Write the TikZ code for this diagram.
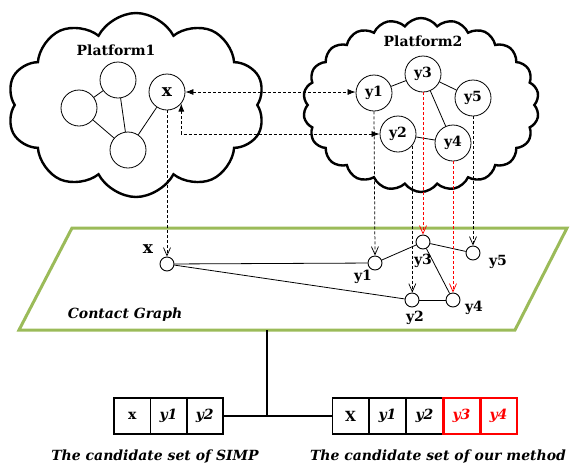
\documentclass[tikz,border=0pt]{standalone}
\usepackage{fontspec}
\setmainfont{DejaVu Serif}
\usetikzlibrary{shapes.symbols,arrows.meta}
\definecolor{cgreen}{RGB}{155,187,89}
\definecolor{cred}{RGB}{255,0,0}
\tikzset{
  cloudbox/.style={cloud, draw, line width=2.4pt, cloud ignores aspect},
  bignode/.style={circle, draw, line width=0.8pt, fill=white, minimum size=36pt, inner sep=0pt, font=\bfseries\fontsize{14}{14}\selectfont},
  smallnode/.style={circle, draw, line width=0.9pt, fill=white, minimum size=14pt, inner sep=0pt},
  glabel/.style={font=\bfseries\fontsize{14}{14}\selectfont, inner sep=0pt},
  edge/.style={line width=0.8pt},
  dash1/.style={dash pattern=on 3pt off 2pt, line width=0.75pt},
  dblarrow/.style={dash1, {Latex[length=8pt,width=6pt]}-{Latex[length=8pt,width=6pt]}},
  varrow/.style={dash1, -{Straight Barb[length=8pt,width=7pt]}},
  redarrow/.style={varrow, draw=cred},
  cellbox/.style={draw, line width=1.5pt, minimum width=36.5pt, minimum height=36pt, inner sep=0pt, font=\bfseries\fontsize{14}{14}\selectfont},
  redcell/.style={cellbox, draw=cred, text=cred, line width=2.5pt},
  caption/.style={font=\bfseries\itshape\fontsize{14}{14}\selectfont, inner sep=0pt}
}
\begin{document}
\begin{tikzpicture}[x=1pt,y=-1pt]
\useasboundingbox (0,0) rectangle (570,464);
% clouds
\node[cloudbox, cloud puffs=10, cloud puff arc=125, minimum width=258pt, minimum height=184pt] (c1) at (136,105) {};
\node[cloudbox, cloud puffs=22, cloud puff arc=110, minimum width=236pt, minimum height=174pt] (c2) at (421,105) {};
\node[font=\bfseries\fontsize{14}{14}\selectfont] (t1) at (116,50) {Platform1};
\node[font=\bfseries\fontsize{14}{14}\selectfont] (t2) at (423,41) {Platform2};
% platform 1
\node[bignode] (pa) at (118,80) {};
\node[bignode] (pb) at (79,108) {};
\node[bignode] (pc) at (128,150) {};
\node[bignode] (pX) at (167,92) {\fontsize{17}{17}\selectfont x};
\draw[edge] (pb) -- (pa);
\draw[edge] (pa) -- (pc);
\draw[edge] (pb) -- (pc);
\draw[edge] (pc) -- (pX);
% platform 2
\node[bignode] (p1) at (374,93) {y1};
\node[bignode] (p3) at (423,74) {y3};
\node[bignode] (p5) at (473,98) {y5};
\node[bignode] (p2) at (398,134) {y2};
\node[bignode] (p4) at (453,143) {y4};
\draw[edge] (p1) -- (p3);
\draw[edge] (p3) -- (p5);
\draw[edge] (p3) -- (p4);
\draw[edge] (p2) -- (p4);
% links between platforms
\draw[dblarrow] (pX.east) -- (pX.east -| p1.west);
\draw[dblarrow] (pX.-39) |- (p2.west);
% contact graph
\draw[cgreen, line width=3pt] (72,228) -- (567,228) -- (515,330) -- (19,330) -- cycle;
\node[smallnode] (gx) at (167,264) {};
\node[smallnode] (g1) at (375,263) {};
\node[smallnode] (g3) at (423,242) {};
\node[smallnode] (g5) at (473,253) {};
\node[smallnode] (g2) at (412,300) {};
\node[smallnode] (g4) at (453,300) {};
\draw[edge] (gx) -- (g1);
\draw[edge] (gx) -- (g2);
\draw[edge] (g1) -- (g3);
\draw[edge] (g3) -- (g5);
\draw[edge] (g3) -- (g4);
\draw[edge] (g2) -- (g4);
\node[glabel, font=\bfseries\fontsize{17}{17}\selectfont] (lx) at (148,249) {x};
\node[glabel] (l1) at (363,277) {y1};
\node[glabel] (l3) at (423,261) {y3};
\node[glabel] (l5) at (498,262) {y5};
\node[glabel] (l2) at (415,318) {y2};
\node[glabel] (l4) at (474,308) {y4};
\node[caption] (cg) at (125,315) {Contact Graph};
% vertical arrows
\draw[varrow] (pX.south) -- (gx.north);
\draw[varrow] (p1.south) -- (g1.north);
\draw[varrow] (p2.-39) -- (p2.-39 |- g2.north);
\draw[redarrow] (p3.south) -- (g3.north);
\draw[redarrow] (p4.south) -- (g4.north);
\draw[varrow] (p5.south) -- (g5.north);
% candidate sets
\node[cellbox] (a1) at (132.2,416) {x};
\node[cellbox] (a2) at (168.5,416) {\itshape y1};
\node[cellbox] (a3) at (204.8,416) {\itshape y2};
\node[cellbox] (b1) at (350.5,416) {X};
\node[cellbox] (b2) at (387.5,416) {\itshape y1};
\node[cellbox] (b3) at (424.5,416) {\itshape y2};
\node[redcell] (b4) at (461.5,416) {\itshape y3};
\node[redcell] (b5) at (498.5,416) {\itshape y4};
\coordinate (top) at (267,330);
\coordinate (jn) at (267,417);
\draw[line width=1.5pt] (top) -- (jn);
\draw[line width=1.5pt] (a3.east) -- (b1.west);
\node[caption] (capa) at (155,457) {The candidate set of SIMP};
\node[caption] (capb) at (438,457) {The candidate set of our method};
\end{tikzpicture}
\end{document}
